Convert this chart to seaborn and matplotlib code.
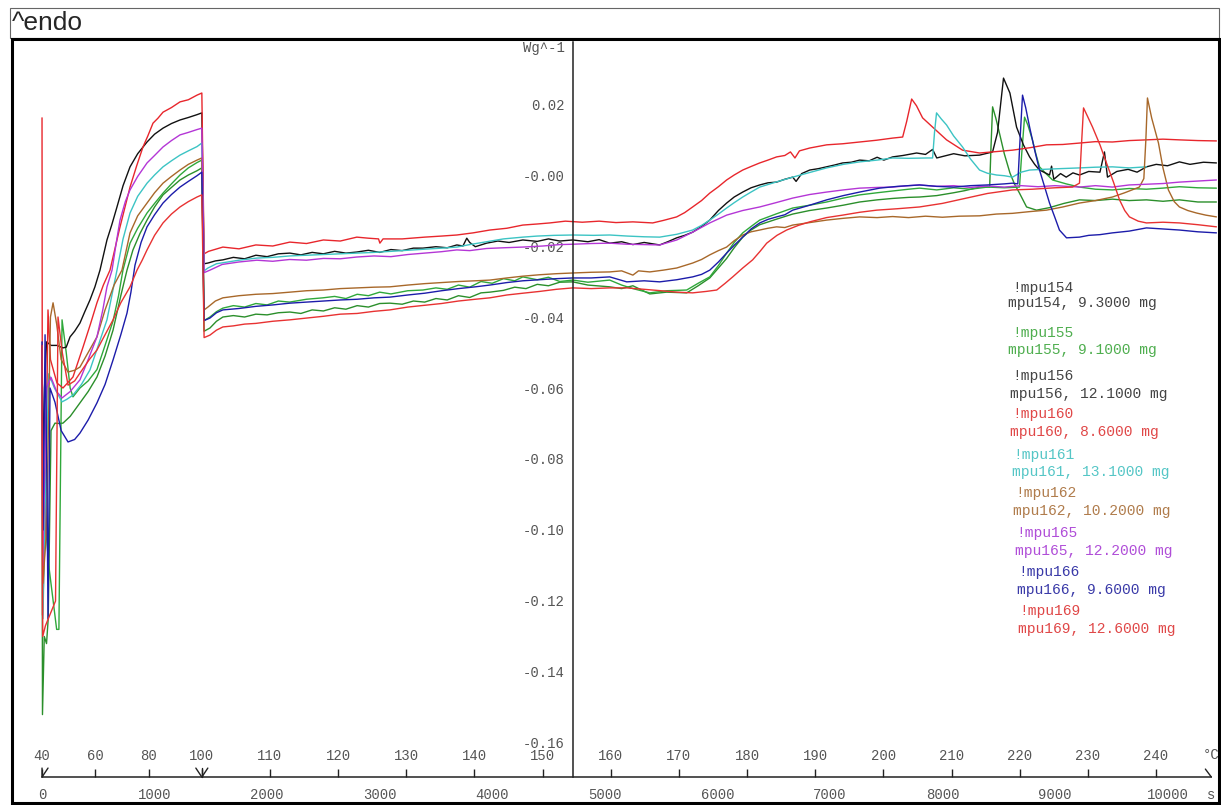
import numpy as np
import pandas as pd
import matplotlib
matplotlib.use("Agg")
import matplotlib.pyplot as plt
from matplotlib.patches import Rectangle
from matplotlib.ticker import NullLocator
import seaborn as sns

# ---- data: time (s) and heat flow (W/g) ----
t_mpu160 = [0, 4, 28, 53, 75, 133, 186, 275, 364, 430, 488, 545, 604, 690, 782, 840, 897, 940, 986, 1030, 1075, 1150, 1226, 1300, 1377, 1420,
            1440, 1480, 1607, 1750, 1900, 2050, 2202, 2350, 2500, 2650, 2797, 2900, 2990, 3002, 3030, 3200, 3400, 3550, 3686, 3830, 3979,
            4130, 4272, 4400, 4512, 4650, 4800, 4950, 5100, 5250, 5426, 5520, 5639, 5710, 5781, 5860, 5933, 6010, 6083, 6150, 6226, 6300,
            6377, 6450, 6527, 6600, 6650, 6690, 6730, 6821, 6972, 7114, 7265, 7416, 7558, 7647, 7682, 7727, 7770, 7824, 7913, 8037, 8179,
            8330, 8480, 8623, 8780, 8925, 9070, 9218, 9360, 9511, 9660, 9813, 9960, 10106, 10270, 10435]
v_mpu160 = [0.0161, -0.1240, -0.1000, -0.0380, -0.0520, -0.0586, -0.0600, -0.0569, -0.0485, -0.0420, -0.0360, -0.0310, -0.0268, -0.0150,
            -0.0034, 0.0025, 0.0079, 0.0110, 0.0146, 0.0160, 0.0177, 0.0190, 0.0206, 0.0212, 0.0225, 0.0231,
            -0.0222, -0.0215, -0.0203, -0.0208, -0.0197, -0.0200, -0.0189, -0.0193, -0.0183, -0.0186, -0.0175, -0.0178, -0.0180, -0.0192,
            -0.0180, -0.0180, -0.0175, -0.0172, -0.0169, -0.0163, -0.0155, -0.0150, -0.0141, -0.0138, -0.0135, -0.0130, -0.0133, -0.0130,
            -0.0134, -0.0132, -0.0135, -0.0128, -0.0118, -0.0106, -0.0090, -0.0072, -0.0051, -0.0033, -0.0014, 0.0000, 0.0014, 0.0024,
            0.0034, 0.0042, 0.0051, 0.0055, 0.0065, 0.0048, 0.0068, 0.0076, 0.0085, 0.0088, 0.0093, 0.0098, 0.0104, 0.0107, 0.0150,
            0.0214, 0.0195, 0.0161, 0.0135, 0.0099, 0.0070, 0.0062, 0.0066, 0.0070, 0.0077, 0.0085, 0.0086, 0.0090, 0.0094, 0.0093,
            0.0097, 0.0099, 0.0101, 0.0099, 0.0097, 0.0096]

t_mpu156 = [0, 10, 22, 40, 80, 133, 186, 215, 249, 290, 337, 380, 426, 470, 515, 577, 620, 666, 720, 782, 850, 933, 1000, 1075, 1150, 1226,
            1300, 1377, 1420,
            1440, 1474, 1540, 1607, 1700, 1800, 1900, 2000, 2100, 2202, 2300, 2400, 2500, 2600, 2700, 2797, 2900, 3000, 3100, 3200, 3300,
            3384, 3500, 3600, 3686, 3740, 3774, 3800, 3850, 3950, 4050, 4150, 4272, 4400, 4500, 4600, 4716, 4850, 4950, 5044, 5150, 5250,
            5350, 5488, 5560, 5639, 5710, 5781, 5860, 5933, 6010, 6083, 6150, 6226, 6300, 6377, 6450, 6527, 6600, 6670, 6700, 6750, 6821,
            6900, 6972, 7040, 7114, 7190, 7265, 7350, 7420, 7480, 7558, 7650, 7771, 7850, 7913, 7950, 8000, 8100, 8200, 8330, 8446, 8490,
            8543, 8600, 8659, 8720, 8775, 8820, 8863, 8920, 8952, 8970, 8990, 9050, 9100, 9160, 9218, 9300, 9400, 9440, 9467, 9550, 9650,
            9730, 9813, 9900, 10000, 10106, 10200, 10320, 10435]
v_mpu156 = [-0.0480, -0.0850, -0.0600, -0.0470, -0.0480, -0.0480, -0.0487, -0.0485, -0.0456, -0.0440, -0.0417, -0.0385, -0.0352, -0.0315,
            -0.0268, -0.0183, -0.0140, -0.0090, -0.0030, 0.0023, 0.0060, 0.0093, 0.0115, 0.0132, 0.0145, 0.0155, 0.0162, 0.0170, 0.0175,
            -0.0250, -0.0248, -0.0242, -0.0239, -0.0232, -0.0236, -0.0226, -0.0230, -0.0222, -0.0220, -0.0225, -0.0218, -0.0222, -0.0215,
            -0.0220, -0.0217, -0.0212, -0.0218, -0.0210, -0.0213, -0.0206, -0.0206, -0.0202, -0.0205, -0.0197, -0.0200, -0.0178, -0.0190,
            -0.0202, -0.0192, -0.0186, -0.0190, -0.0183, -0.0187, -0.0180, -0.0186, -0.0183, -0.0188, -0.0182, -0.0192, -0.0188, -0.0196,
            -0.0190, -0.0197, -0.0188, -0.0177, -0.0170, -0.0161, -0.0145, -0.0127, -0.0100, -0.0079, -0.0062, -0.0048, -0.0036, -0.0028,
            -0.0022, -0.0020, -0.0012, -0.0006, -0.0018, 0.0004, 0.0014, 0.0018, 0.0023, 0.0028, 0.0034, 0.0036, 0.0042, 0.0040, 0.0050,
            0.0042, 0.0051, 0.0055, 0.0062, 0.0058, 0.0072, 0.0048, 0.0052, 0.0060, 0.0054, 0.0056, 0.0065, 0.0120, 0.0273, 0.0231,
            0.0135, 0.0085, 0.0051, 0.0030, 0.0014, 0.0005, 0.0000, 0.0025, -0.0012, 0.0004, -0.0006, 0.0006, 0.0000, 0.0010, 0.0008,
            0.0065, -0.0006, 0.0010, 0.0016, 0.0008, 0.0023, 0.0030, 0.0026, 0.0037, 0.0030, 0.0036, 0.0034]

t_mpu161 = [0, 8, 30, 60, 110, 178, 220, 275, 350, 426, 500, 577, 620, 666, 720, 782, 850, 933, 1000, 1075, 1150, 1226, 1300, 1377, 1420,
            1440, 1474, 1550, 1650, 1750, 1909, 2050, 2200, 2350, 2500, 2650, 2797, 2950, 3100, 3250, 3400, 3550, 3686, 3800, 3950, 4100,
            4272, 4400, 4550, 4716, 4900, 5044, 5200, 5350, 5488, 5640, 5781, 5860, 5933, 6010, 6083, 6150, 6226, 6300, 6377, 6520, 6670,
            6820, 6972, 7120, 7265, 7420, 7558, 7700, 7869, 7913, 7930, 7948, 7990, 8037, 8100, 8179, 8250, 8330, 8400, 8481, 8550, 8623,
            8700, 8775, 8900, 9050, 9218, 9360, 9511, 9660, 9813]
v_mpu161 = [-0.0500, -0.1250, -0.0900, -0.0560, -0.0600, -0.0639, -0.0632, -0.0620, -0.0590, -0.0549, -0.0480, -0.0408, -0.0340, -0.0268,
            -0.0180, -0.0107, -0.0060, -0.0023, 0.0000, 0.0023, 0.0040, 0.0056, 0.0068, 0.0080, 0.0090,
            -0.0270, -0.0262, -0.0250, -0.0245, -0.0240, -0.0234, -0.0232, -0.0228, -0.0226, -0.0224, -0.0222, -0.0220, -0.0218, -0.0215,
            -0.0212, -0.0209, -0.0206, -0.0203, -0.0196, -0.0188, -0.0180, -0.0175, -0.0172, -0.0170, -0.0169, -0.0170, -0.0169, -0.0172,
            -0.0174, -0.0175, -0.0167, -0.0155, -0.0142, -0.0127, -0.0110, -0.0093, -0.0078, -0.0062, -0.0048, -0.0034, -0.0020, -0.0006,
            0.0007, 0.0020, 0.0030, 0.0037, 0.0042, 0.0048, 0.0047, 0.0048, 0.0048, 0.0120, 0.0175, 0.0158, 0.0141, 0.0110, 0.0079, 0.0045,
            0.0014, 0.0005, 0.0000, -0.0002, -0.0006, 0.0008, 0.0014, 0.0016, 0.0018, 0.0020, 0.0022, 0.0023, 0.0020, 0.0023]

t_mpu165 = [0, 6, 40, 80, 130, 178, 250, 337, 410, 488, 540, 577, 622, 660, 693, 740, 782, 850, 933, 1000, 1075, 1150, 1226, 1300, 1377, 1420,
            1440, 1492, 1600, 1750, 1909, 2050, 2200, 2350, 2500, 2650, 2797, 2950, 3100, 3250, 3400, 3550, 3686, 3800, 3950, 4100, 4272,
            4450, 4600, 4716, 4880, 5044, 5200, 5350, 5488, 5640, 5781, 5933, 6083, 6226, 6377, 6520, 6670, 6820, 6972, 7120, 7265, 7420,
            7558, 7700, 7797, 7950, 8100, 8250, 8400, 8550, 8700, 8850, 9000, 9218, 9360, 9511, 9660, 9813, 9960, 10106, 10270, 10435]
v_mpu165 = [-0.0480, -0.1100, -0.0600, -0.0570, -0.0610, -0.0628, -0.0610, -0.0577, -0.0520, -0.0456, -0.0380, -0.0315, -0.0268, -0.0190,
            -0.0127, -0.0075, -0.0042, -0.0004, 0.0034, 0.0055, 0.0079, 0.0097, 0.0113, 0.0120, 0.0128, 0.0132,
            -0.0275, -0.0268, -0.0252, -0.0245, -0.0240, -0.0243, -0.0238, -0.0240, -0.0235, -0.0236, -0.0231, -0.0228, -0.0230, -0.0224,
            -0.0220, -0.0216, -0.0211, -0.0213, -0.0207, -0.0205, -0.0203, -0.0200, -0.0196, -0.0195, -0.0193, -0.0192, -0.0195, -0.0196,
            -0.0197, -0.0183, -0.0161, -0.0135, -0.0113, -0.0100, -0.0090, -0.0078, -0.0065, -0.0055, -0.0048, -0.0042, -0.0037, -0.0035,
            -0.0034, -0.0030, -0.0028, -0.0032, -0.0030, -0.0035, -0.0031, -0.0034, -0.0030, -0.0033, -0.0030, -0.0034, -0.0030, -0.0034,
            -0.0028, -0.0026, -0.0024, -0.0020, -0.0017, -0.0014]

t_mpu162 = [0, 8, 40, 75, 98, 130, 170, 231, 290, 337, 410, 488, 560, 640, 710, 782, 850, 933, 1000, 1075, 1150, 1226, 1300, 1377, 1420,
            1440, 1474, 1540, 1607, 1750, 1900, 2050, 2202, 2350, 2500, 2650, 2800, 2950, 3091, 3250, 3400, 3550, 3700, 3850, 3979, 4130,
            4272, 4420, 4570, 4716, 4880, 5044, 5150, 5250, 5300, 5400, 5520, 5639, 5710, 5781, 5860, 5933, 6010, 6083, 6150, 6226, 6300,
            6377, 6450, 6527, 6600, 6670, 6821, 6972, 7120, 7265, 7420, 7558, 7700, 7850, 8000, 8150, 8330, 8480, 8623, 8780, 8925, 9070,
            9218, 9360, 9511, 9620, 9750, 9790, 9808, 9822, 9860, 9920, 9960, 10008, 10060, 10106, 10180, 10257, 10340, 10435]
v_mpu162 = [-0.0520, -0.1150, -0.1000, -0.0400, -0.0360, -0.0420, -0.0520, -0.0555, -0.0550, -0.0541, -0.0500, -0.0456, -0.0380, -0.0310,
            -0.0268, -0.0163, -0.0115, -0.0079, -0.0050, -0.0023, -0.0004, 0.0014, 0.0030, 0.0042, 0.0048,
            -0.0380, -0.0372, -0.0355, -0.0346, -0.0340, -0.0336, -0.0334, -0.0330, -0.0326, -0.0324, -0.0320, -0.0318, -0.0316, -0.0315,
            -0.0310, -0.0306, -0.0303, -0.0300, -0.0298, -0.0296, -0.0290, -0.0285, -0.0281, -0.0278, -0.0276, -0.0274, -0.0273, -0.0270,
            -0.0282, -0.0270, -0.0273, -0.0268, -0.0262, -0.0255, -0.0248, -0.0238, -0.0225, -0.0213, -0.0203, -0.0185, -0.0169, -0.0160,
            -0.0155, -0.0150, -0.0146, -0.0148, -0.0141, -0.0134, -0.0127, -0.0122, -0.0118, -0.0120, -0.0117, -0.0120, -0.0116, -0.0119,
            -0.0116, -0.0115, -0.0110, -0.0108, -0.0103, -0.0099, -0.0090, -0.0079, -0.0072, -0.0062, -0.0050, -0.0034, -0.0010, 0.0100,
            0.0217, 0.0160, 0.0090, 0.0020, -0.0042, -0.0075, -0.0090, -0.0100, -0.0107, -0.0113, -0.0118]

t_mpu166 = [0, 10, 27, 45, 53, 71, 115, 170, 231, 290, 337, 410, 488, 560, 631, 700, 755, 790, 826, 880, 933, 1000, 1075, 1150, 1226, 1300,
            1377, 1420,
            1440, 1492, 1550, 1607, 1750, 1900, 2050, 2202, 2350, 2500, 2650, 2800, 2950, 3091, 3250, 3400, 3550, 3700, 3850, 3979, 4130,
            4272, 4420, 4570, 4716, 4880, 5044, 5195, 5350, 5488, 5640, 5781, 5860, 5933, 6010, 6083, 6150, 6226, 6300, 6377, 6450, 6527,
            6600, 6670, 6821, 6972, 7120, 7265, 7442, 7600, 7797, 7950, 8100, 8250, 8400, 8550, 8623, 8670, 8690, 8712, 8740, 8775, 8820,
            8863, 8910, 8952, 9000, 9040, 9103, 9160, 9218, 9300, 9400, 9511, 9660, 9813, 9960, 10106, 10270, 10435]
v_mpu166 = [-0.0470, -0.1000, -0.0450, -0.0900, -0.1250, -0.0600, -0.0640, -0.0720, -0.0752, -0.0745, -0.0727, -0.0690, -0.0642, -0.0590,
            -0.0521, -0.0450, -0.0389, -0.0330, -0.0254, -0.0190, -0.0146, -0.0112, -0.0079, -0.0055, -0.0034, -0.0018, -0.0002, 0.0008,
            -0.0410, -0.0403, -0.0388, -0.0380, -0.0376, -0.0370, -0.0366, -0.0361, -0.0358, -0.0355, -0.0352, -0.0350, -0.0346, -0.0344,
            -0.0338, -0.0333, -0.0326, -0.0320, -0.0315, -0.0310, -0.0303, -0.0298, -0.0295, -0.0292, -0.0290, -0.0290, -0.0287, -0.0301,
            -0.0298, -0.0301, -0.0295, -0.0287, -0.0280, -0.0268, -0.0245, -0.0220, -0.0198, -0.0175, -0.0152, -0.0135, -0.0125, -0.0118,
            -0.0112, -0.0099, -0.0085, -0.0070, -0.0058, -0.0048, -0.0037, -0.0032, -0.0028, -0.0032, -0.0034, -0.0030, -0.0028, -0.0025,
            -0.0023, -0.0025, 0.0100, 0.0225, 0.0190, 0.0135, 0.0070, 0.0014, -0.0035, -0.0079, -0.0120, -0.0155, -0.0177, -0.0176,
            -0.0175, -0.0170, -0.0168, -0.0163, -0.0158, -0.0149, -0.0152, -0.0155, -0.0160, -0.0163]

t_mpu155 = [0, 10, 60, 130, 150, 178, 215, 250, 275, 337, 410, 488, 560, 631, 680, 719, 782, 850, 933, 1000, 1075, 1150, 1226, 1300, 1377,
            1420,
            1440, 1492, 1550, 1607, 1700, 1800, 1900, 2000, 2100, 2200, 2350, 2496, 2600, 2700, 2800, 2900, 3000, 3100, 3250, 3384, 3500,
            3600, 3700, 3800, 3900, 4000, 4100, 4200, 4272, 4400, 4500, 4600, 4716, 4850, 5044, 5150, 5250, 5400, 5550, 5728, 5830, 5933,
            6010, 6083, 6150, 6226, 6300, 6377, 6520, 6670, 6821, 6972, 7120, 7265, 7420, 7558, 7700, 7797, 7950, 8100, 8250, 8400, 8550,
            8685, 8705, 8730, 8760, 8800, 8830, 8863, 8920, 8979, 9100, 9218, 9360, 9511, 9660, 9813, 9955, 10106, 10270, 10435]
v_mpu155 = [-0.0600, -0.0900, -0.1100, -0.1280, -0.1280, -0.0408, -0.0500, -0.0600, -0.0625, -0.0600, -0.0580, -0.0548, -0.0480, -0.0411,
            -0.0340, -0.0268, -0.0192, -0.0150, -0.0107, -0.0080, -0.0051, -0.0025, 0.0000, 0.0020, 0.0035, 0.0042,
            -0.0410, -0.0400, -0.0385, -0.0375, -0.0368, -0.0372, -0.0362, -0.0366, -0.0355, -0.0358, -0.0350, -0.0346, -0.0342, -0.0348,
            -0.0336, -0.0340, -0.0330, -0.0335, -0.0326, -0.0324, -0.0318, -0.0322, -0.0310, -0.0316, -0.0300, -0.0305, -0.0292, -0.0298,
            -0.0287, -0.0295, -0.0288, -0.0300, -0.0296, -0.0302, -0.0296, -0.0310, -0.0320, -0.0332, -0.0326, -0.0324, -0.0305, -0.0287,
            -0.0255, -0.0220, -0.0190, -0.0163, -0.0145, -0.0127, -0.0110, -0.0093, -0.0085, -0.0076, -0.0065, -0.0056, -0.0050, -0.0045,
            -0.0040, -0.0037, -0.0042, -0.0036, -0.0040, -0.0034, -0.0036, -0.0034, 0.0060, 0.0163, 0.0140, 0.0099, 0.0060, 0.0023,
            0.0004, -0.0014, -0.0025, -0.0034, -0.0040, -0.0042, -0.0038, -0.0040, -0.0037, -0.0033, -0.0036, -0.0037]

t_mpu154 = [0, 4, 20, 40, 55, 80, 115, 150, 186, 250, 337, 410, 488, 560, 631, 700, 755, 808, 870, 933, 1000, 1075, 1150, 1226, 1300, 1377,
            1420,
            1440, 1492, 1550, 1607, 1700, 1800, 1900, 2000, 2100, 2202, 2300, 2400, 2500, 2600, 2700, 2800, 2900, 3000, 3091, 3200, 3300,
            3400, 3500, 3600, 3700, 3800, 3900, 3979, 4100, 4200, 4300, 4400, 4500, 4600, 4716, 4850, 5044, 5150, 5250, 5400, 5550, 5728,
            5830, 5933, 6010, 6083, 6150, 6226, 6300, 6377, 6520, 6670, 6821, 6972, 7120, 7265, 7420, 7558, 7700, 7797, 7950, 8100, 8200,
            8330, 8420, 8432, 8446, 8475, 8507, 8550, 8600, 8640, 8685, 8748, 8836, 8950, 9080, 9218, 9360, 9511, 9660, 9813, 9960, 10106,
            10270, 10435]
v_mpu154 = [-0.0600, -0.1520, -0.1300, -0.1320, -0.1250, -0.0720, -0.0699, -0.0700, -0.0699, -0.0680, -0.0642, -0.0610, -0.0569, -0.0510,
            -0.0437, -0.0340, -0.0268, -0.0211, -0.0165, -0.0127, -0.0090, -0.0056, -0.0035, -0.0014, 0.0000, 0.0012, 0.0020,
            -0.0440, -0.0431, -0.0412, -0.0400, -0.0396, -0.0400, -0.0392, -0.0394, -0.0388, -0.0386, -0.0390, -0.0380, -0.0383, -0.0374,
            -0.0378, -0.0368, -0.0372, -0.0362, -0.0361, -0.0364, -0.0355, -0.0358, -0.0348, -0.0352, -0.0340, -0.0345, -0.0332, -0.0330,
            -0.0325, -0.0316, -0.0320, -0.0308, -0.0312, -0.0302, -0.0301, -0.0310, -0.0315, -0.0320, -0.0312, -0.0335, -0.0330, -0.0332,
            -0.0312, -0.0290, -0.0262, -0.0235, -0.0205, -0.0175, -0.0155, -0.0140, -0.0125, -0.0110, -0.0100, -0.0093, -0.0085, -0.0076,
            -0.0070, -0.0066, -0.0063, -0.0062, -0.0058, -0.0050, -0.0044, -0.0034, -0.0034, 0.0080, 0.0192, 0.0160, 0.0118, 0.0060,
            0.0006, -0.0025, -0.0051, -0.0090, -0.0099, -0.0092, -0.0080, -0.0070, -0.0072, -0.0068, -0.0072, -0.0070, -0.0074, -0.0070,
            -0.0076, -0.0076]

t_mpu169 = [0, 6, 30, 120, 142, 180, 231, 290, 337, 420, 488, 560, 631, 700, 782, 844, 890, 933, 1000, 1075, 1150, 1226, 1300, 1377, 1420,
            1440, 1492, 1550, 1607, 1700, 1800, 1900, 2050, 2202, 2350, 2500, 2650, 2800, 2950, 3091, 3250, 3400, 3550, 3700, 3850, 3979,
            4130, 4272, 4420, 4570, 4716, 4880, 5044, 5195, 5350, 5500, 5640, 5781, 5900, 5995, 6070, 6137, 6226, 6314, 6380, 6439, 6530,
            6616, 6720, 6821, 6970, 7114, 7265, 7416, 7600, 7797, 8000, 8200, 8400, 8623, 8800, 9000, 9155, 9218, 9235, 9254, 9290, 9334,
            9400, 9458, 9520, 9574, 9620, 9662, 9740, 9813, 9960, 10106, 10270, 10435]
v_mpu169 = [-0.0480, -0.1300, -0.1270, -0.1200, -0.0400, -0.0500, -0.0592, -0.0580, -0.0558, -0.0520, -0.0493, -0.0450, -0.0408, -0.0360,
            -0.0315, -0.0268, -0.0240, -0.0211, -0.0170, -0.0135, -0.0110, -0.0090, -0.0075, -0.0062, -0.0056,
            -0.0458, -0.0451, -0.0437, -0.0428, -0.0425, -0.0420, -0.0418, -0.0412, -0.0408, -0.0403, -0.0398, -0.0392, -0.0390, -0.0384,
            -0.0380, -0.0372, -0.0367, -0.0362, -0.0355, -0.0350, -0.0346, -0.0338, -0.0333, -0.0328, -0.0322, -0.0318, -0.0320, -0.0318,
            -0.0318, -0.0322, -0.0326, -0.0330, -0.0332, -0.0328, -0.0324, -0.0305, -0.0287, -0.0262, -0.0239, -0.0215, -0.0192, -0.0170,
            -0.0155, -0.0142, -0.0132, -0.0120, -0.0113, -0.0105, -0.0099, -0.0095, -0.0090, -0.0080, -0.0066, -0.0052, -0.0042, -0.0040,
            -0.0036, -0.0034, -0.0023, 0.0080, 0.0189, 0.0165, 0.0135, 0.0085, 0.0034, -0.0020, -0.0070, -0.0100, -0.0118, -0.0130,
            -0.0135, -0.0133, -0.0135, -0.0140, -0.0146]

samples = ["mpu154", "mpu155", "mpu156", "mpu160", "mpu161", "mpu162", "mpu165", "mpu166", "mpu169"]
masses = ["9.3000", "9.1000", "12.1000", "8.6000", "13.1000", "10.2000", "12.2000", "9.6000", "12.6000"]

# x axis furniture: time labels and temperature programme (40->100 C, then 1 K/min)
time_ticks = list(range(0, 10001, 1000))
temp_ticks = [40, 60, 80, 100, 110, 120, 130, 140, 150, 160, 170, 180, 190, 200, 210, 220, 230, 240]
seg_time = [-1000, 0, 1420, 12000]
seg_temp = [-1.96, 40, 100, 274.7]
y_major = [0.02, 0.0, -0.02, -0.04, -0.06, -0.08, -0.10, -0.12, -0.14, -0.16]
y_labels = ["0.02", "-0.00", "-0.02", "-0.04", "-0.06", "-0.08", "-0.10", "-0.12", "-0.14", "-0.16"]
y_minor = [0.03, 0.01, -0.01, -0.03, -0.05, -0.07, -0.09, -0.11, -0.13, -0.15]

# ---- styles ----
line_colors = {"mpu154": "#2b8f2b", "mpu155": "#2fa83a", "mpu156": "#111111", "mpu160": "#e8262c",
               "mpu161": "#3cc4c4", "mpu162": "#a8682a", "mpu165": "#b436d6", "mpu166": "#1c1caa",
               "mpu169": "#e83232"}
text_colors = ["#444444", "#4fae4f", "#444444", "#e04848", "#55c6c6", "#b07c4c", "#b04ed8", "#3a3aa8", "#e04848"]

curves = {"mpu154": (t_mpu154, v_mpu154), "mpu155": (t_mpu155, v_mpu155), "mpu156": (t_mpu156, v_mpu156),
          "mpu160": (t_mpu160, v_mpu160), "mpu161": (t_mpu161, v_mpu161), "mpu162": (t_mpu162, v_mpu162),
          "mpu165": (t_mpu165, v_mpu165), "mpu166": (t_mpu166, v_mpu166), "mpu169": (t_mpu169, v_mpu169)}
frames = []
for name, (t, v) in curves.items():
    frames.append(pd.DataFrame({"time": t, "heat_flow": v, "sample": name}))
df = pd.concat(frames, ignore_index=True)

sns.set_style("white")
plt.rcParams["font.family"] = ["Liberation Sans", "DejaVu Sans"]
MONO = "Liberation Mono"
GREY = "#555555"

W, H = 1221, 805
fig = plt.figure(figsize=(W / 100, H / 100), dpi=100)

# frames around the title strip and the plot area
fig.add_artist(Rectangle((10 / W, 1 - 38 / H), 1209 / W, 30 / H, transform=fig.transFigure,
                         fill=False, lw=0.8, ec="#666666"))
fig.add_artist(Rectangle((11.5 / W, 1 - 802.5 / H), 1207 / W, 763 / H, transform=fig.transFigure,
                         fill=False, lw=2.2, ec="black"))
fig.text(12 / W, 1 - 23 / H, "^endo", fontsize=19, va="center", ha="left")

ax = fig.add_axes([14 / W, 1 - 800 / H, 1203 / W, 759 / H])
sns.lineplot(data=df, x="time", y="heat_flow", hue="sample", palette=line_colors,
             estimator=None, sort=False, legend=False, linewidth=1.0, ax=ax)

ax.set_xlim(-249, 10440)
ax.set_ylim(-0.17606, 0.03775)
ax.set_xlabel("")
ax.set_ylabel("")

y_axis_t = 4716
x_axis_v = -0.1696
t_end = 10390
for s in ["top", "right"]:
    ax.spines[s].set_visible(False)
ax.spines["left"].set_position(("data", y_axis_t))
ax.spines["left"].set_bounds(x_axis_v, 0.0375)
ax.spines["bottom"].set_position(("data", x_axis_v))
ax.spines["bottom"].set_bounds(0, t_end)
for s in ["left", "bottom"]:
    ax.spines[s].set_color("#222222")
    ax.spines[s].set_linewidth(1.1)

ax.set_yticks(y_major, labels=y_labels)
ax.set_yticks(y_minor, minor=True)
ax.tick_params(axis="y", which="both", direction="out", length=5.5, width=1, color="#222222",
               labelcolor=GREY, labelsize=10, pad=0.5, labelfontfamily=MONO)

ax.set_xticks(time_ticks, labels=[str(v) for v in time_ticks])
ax.set_xticks([v for v in range(200, t_end, 200) if v % 1000], minor=True)
ax.tick_params(axis="x", which="major", direction="out", length=7, width=1, color="#222222",
               labelcolor=GREY, labelsize=10, pad=1, labelfontfamily=MONO)
ax.tick_params(axis="x", which="minor", direction="inout", length=6, width=1, color="#222222")

# temperature scale on the same axis line
frac = (x_axis_v - ax.get_ylim()[0]) / (ax.get_ylim()[1] - ax.get_ylim()[0])
sec = ax.secondary_xaxis(frac, functions=(lambda t: np.interp(t, seg_time, seg_temp),
                                          lambda T: np.interp(T, seg_temp, seg_time)))
sec.set_alignment("top")
for s in sec.spines.values():
    s.set_visible(False)
sec.set_xticks(temp_ticks, labels=[str(v) for v in temp_ticks])
sec.xaxis.set_minor_locator(NullLocator())
sec.tick_params(axis="x", direction="out", length=5.5, width=1, color="#222222",
                labelcolor=GREY, labelsize=10, pad=4.5, labelfontfamily=MONO)

# segment markers on the time axis
px_t, px_v = 8.881, 1 / 3550
ax.plot([0, 0, 6 * px_t], [x_axis_v + 9 * px_v, x_axis_v, x_axis_v + 9 * px_v], color="#222222", lw=1)
ax.plot([1420 - 6 * px_t, 1420, 1420 + 6 * px_t], [x_axis_v + 9 * px_v, x_axis_v, x_axis_v + 9 * px_v],
        color="#222222", lw=1)
ax.plot([1420, 1420], [x_axis_v, x_axis_v + 9 * px_v], color="#222222", lw=1)
ax.plot([t_end - 6 * px_t, t_end], [x_axis_v + 8 * px_v, x_axis_v], color="#222222", lw=1)

ax.annotate("°C", xy=(t_end, x_axis_v), xytext=(0, 16), textcoords="offset points",
            ha="center", va="center", fontsize=10, color=GREY, family=MONO)
ax.annotate("s", xy=(t_end, x_axis_v), xytext=(0, -13), textcoords="offset points",
            ha="center", va="center", fontsize=10, color=GREY, family=MONO)
ax.annotate("Wg^-1", xy=(y_axis_t, 0.0358), xytext=(-6, 0), textcoords="offset points",
            ha="right", va="center", fontsize=10, color=GREY, family=MONO)

# sample legend (plain coloured text as in the instrument export)
head_x = [1012, 1012, 1012, 1012, 1013, 1015, 1016, 1018, 1019]
head_y = [288, 333, 376, 414, 455, 493, 533, 572, 611]
body_x = [1008, 1008, 1010, 1010, 1012, 1013, 1015, 1017, 1018]
body_y = [303, 350, 394, 432, 472, 511, 551, 590, 629]
for i, name in enumerate(samples):
    fig.text(head_x[i] / W, 1 - head_y[i] / H, "!" + name, color=text_colors[i],
             fontsize=10.5, family=MONO, va="center", ha="left")
    fig.text(body_x[i] / W, 1 - body_y[i] / H, f"{name}, {masses[i]} mg", color=text_colors[i],
             fontsize=10.5, family=MONO, va="center", ha="left")

fig.savefig("out.png", dpi=100)
